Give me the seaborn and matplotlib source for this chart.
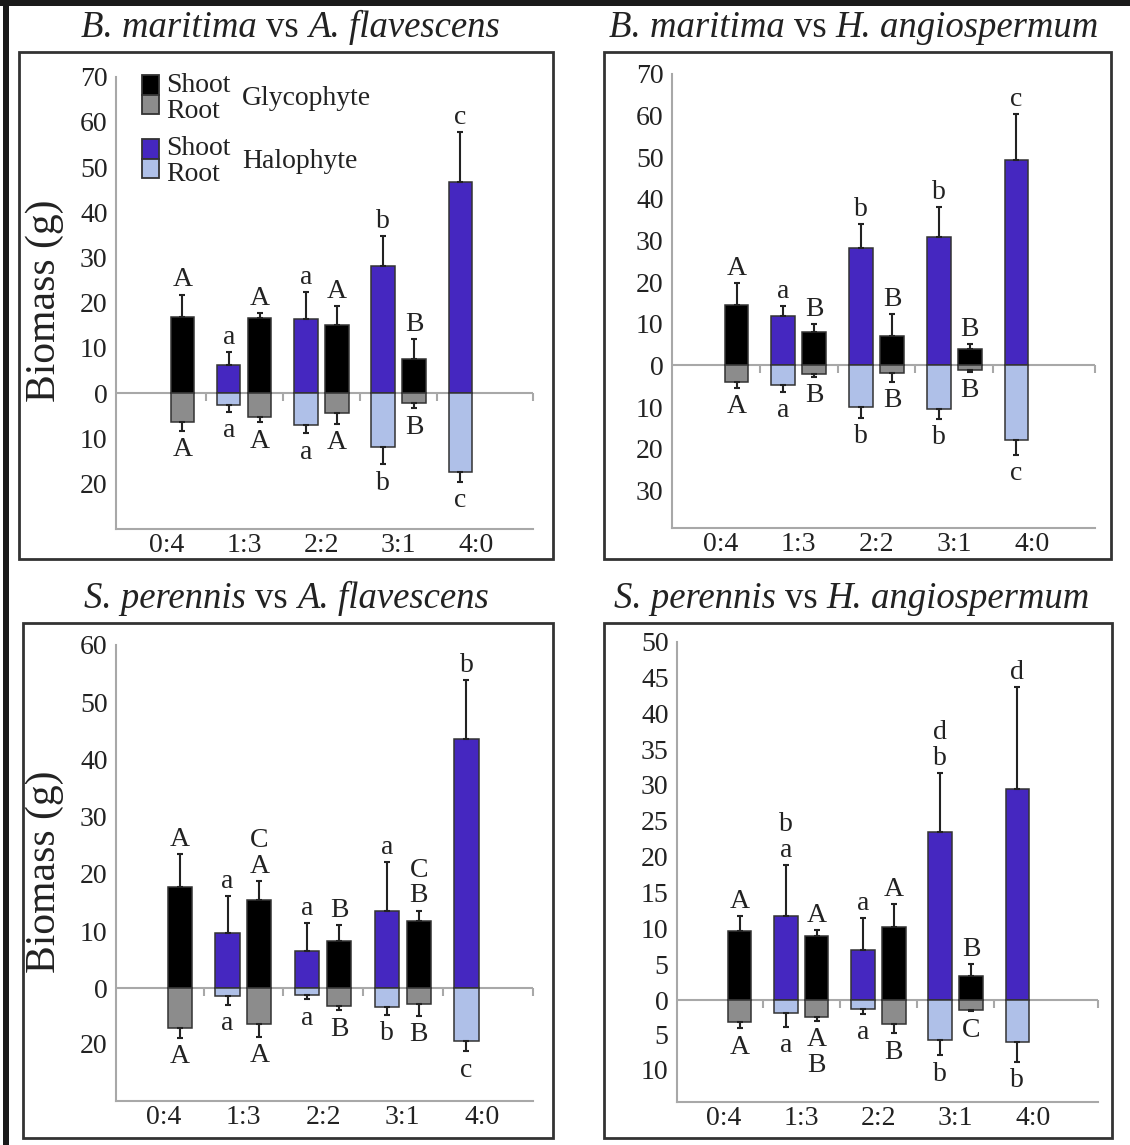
import numpy as np
import pandas as pd
import matplotlib
matplotlib.use("Agg")
import matplotlib.pyplot as plt
from matplotlib.patches import Rectangle
from matplotlib.ticker import FixedLocator, FuncFormatter, NullFormatter
import seaborn as sns

# ---------------------------------------------------------------- data
ratios = ["0:4", "1:3", "2:2", "3:1", "4:0"]
plants = ["Halophyte", "Glycophyte"]
nan = np.nan

# B. maritima (halophyte) vs A. flavescens (glycophyte)
bmaf_hal_shoot = [nan, 6.3, 16.4, 28.1, 46.8]
bmaf_hal_shoot_se = [nan, 2.8, 5.9, 6.7, 11.0]
bmaf_hal_root = [nan, 2.6, 7.0, 12.0, 17.4]
bmaf_hal_root_se = [nan, 1.5, 1.9, 3.8, 2.2]
bmaf_gly_shoot = [16.8, 16.7, 15.1, 7.5, nan]
bmaf_gly_shoot_se = [5.0, 1.1, 4.1, 4.5, nan]
bmaf_gly_root = [6.5, 5.2, 4.5, 2.1, nan]
bmaf_gly_root_se = [1.9, 1.3, 2.4, 1.3, nan]
bmaf_hal_shoot_sig = ["", "a", "a", "b", "c"]
bmaf_hal_root_sig = ["", "a", "a", "b", "c"]
bmaf_gly_shoot_sig = ["A", "A", "A", "B", ""]
bmaf_gly_root_sig = ["A", "A", "A", "B", ""]

# B. maritima (halophyte) vs H. angiospermum (glycophyte)
bmha_hal_shoot = [nan, 11.8, 28.1, 30.8, 49.4]
bmha_hal_shoot_se = [nan, 2.4, 5.8, 7.2, 10.9]
bmha_hal_root = [nan, 4.7, 9.9, 10.5, 17.8]
bmha_hal_root_se = [nan, 1.7, 2.7, 2.3, 3.6]
bmha_gly_shoot = [14.6, 8.1, 7.0, 3.9, nan]
bmha_gly_shoot_se = [5.1, 1.8, 5.3, 1.2, nan]
bmha_gly_root = [4.0, 2.1, 1.9, 1.0, nan]
bmha_gly_root_se = [1.3, 0.6, 2.0, 0.5, nan]
bmha_hal_shoot_sig = ["", "a", "b", "b", "c"]
bmha_hal_root_sig = ["", "a", "b", "b", "c"]
bmha_gly_shoot_sig = ["A", "B", "B", "B", ""]
bmha_gly_root_sig = ["A", "B", "B", "B", ""]

# S. perennis (halophyte) vs A. flavescens (glycophyte)
spaf_hal_shoot = [nan, 9.6, 6.5, 13.5, 43.5]
spaf_hal_shoot_se = [nan, 6.6, 4.9, 8.5, 10.3]
spaf_hal_root = [nan, 2.9, 2.4, 6.9, 19.3]
spaf_hal_root_se = [nan, 3.1, 1.6, 2.7, 3.6]
spaf_gly_shoot = [17.7, 15.5, 8.3, 11.7, nan]
spaf_gly_shoot_se = [5.7, 3.3, 2.7, 1.9, nan]
spaf_gly_root = [14.4, 13.1, 6.4, 5.7, nan]
spaf_gly_root_se = [3.6, 4.5, 1.6, 4.3, nan]
spaf_hal_shoot_sig = ["", "a", "a", "a", "b"]
spaf_hal_root_sig = ["", "a", "a", "b", "c"]
spaf_gly_shoot_sig = ["A", "C\nA", "B", "C\nB", ""]
spaf_gly_root_sig = ["A", "A", "B", "B", ""]

# S. perennis (halophyte) vs H. angiospermum (glycophyte)
spha_hal_shoot = [nan, 11.8, 7.0, 23.5, 29.5]
spha_hal_shoot_se = [nan, 7.0, 4.4, 8.2, 14.2]
spha_hal_root = [nan, 1.8, 1.2, 5.7, 6.0]
spha_hal_root_se = [nan, 2.1, 0.8, 2.3, 2.9]
spha_gly_shoot = [9.7, 8.9, 10.2, 3.4, nan]
spha_gly_shoot_se = [2.0, 0.9, 3.2, 1.7, nan]
spha_gly_root = [3.2, 2.4, 3.5, 1.4, nan]
spha_gly_root_se = [0.9, 0.6, 1.3, 0.2, nan]
spha_hal_shoot_sig = ["", "b\na", "a", "d\nb", "d"]
spha_hal_root_sig = ["", "a", "a", "b", "b"]
spha_gly_shoot_sig = ["A", "A", "A", "B", ""]
spha_gly_root_sig = ["A", "A\nB", "B", "C", ""]

# --------------------------------------------------------------- style
sns.set_style("white")
plt.rcParams["font.family"] = ["Liberation Serif", "DejaVu Serif"]

SHOOT_PAL = {"Halophyte": "#4527c0", "Glycophyte": "#000000"}
ROOT_PAL = {"Halophyte": "#afc0e8", "Glycophyte": "#8c8c8c"}
EDGE = "#333333"
AXIS_GREY = "#a8a8a8"
TEXT = "#222222"
FS = 20
TITLE_FS = 26.5

W, H = 1130, 1145
fig = plt.figure(figsize=(W / 100, H / 100), dpi=100)
fig.patch.set_facecolor("white")
renderer = fig.canvas.get_renderer()


def fx(px):
    return px / W


def fy(py):
    return 1 - py / H


def build_frame(prefix):
    g = globals()
    rows = []
    for plant, key in (("Halophyte", "hal"), ("Glycophyte", "gly")):
        for part, sign in (("Shoot", 1), ("Root", -1)):
            vals = g[f"{prefix}_{key}_{part.lower()}"]
            ses = g[f"{prefix}_{key}_{part.lower()}_se"]
            sigs = g[f"{prefix}_{key}_{part.lower()}_sig"]
            for r, v, s, t in zip(ratios, vals, ses, sigs):
                rows.append(dict(ratio=r, plant=plant, part=part,
                                 value=sign * v, se=s, sig=t))
    return pd.DataFrame(rows).dropna(subset=["value"])


def draw_title(cx, baseline, pieces):
    """Write a line of mixed italic/upright words centred on cx (pixels)."""
    space = 0.25 * TITLE_FS * 100 / 72
    texts, widths = [], []
    for word, style in pieces:
        t = fig.text(0, fy(baseline), word, ha="left", va="baseline",
                     fontsize=TITLE_FS, style=style, color=TEXT)
        widths.append(t.get_window_extent(renderer).width)
        texts.append(t)
    total = sum(widths) + space * (len(pieces) - 1)
    x = cx - total / 2
    for t, w in zip(texts, widths):
        t.set_x(fx(x))
        x += w + space


panels = [
    dict(prefix="bmaf", title=["B. maritima", "vs", "A. flavescens"],
         axes_px=(116, 76.8, 533, 528.6), box_px=(19, 52, 553, 559),
         title_px=(290, 37), ylim=(-30, 70), neg=1.0, xlim=(-0.66, 4.74),
         yticks=[-20, -10, 0, 10, 20, 30, 40, 50, 60, 70], ylabel_y=301),
    dict(prefix="bmha", title=["B. maritima", "vs", "H. angiospermum"],
         axes_px=(672, 73.9, 1095, 527.9), box_px=(604, 52, 1111, 559),
         title_px=(854, 37), ylim=(-39, 70), neg=1.0, xlim=(-0.63, 4.81),
         yticks=[-30, -20, -10, 0, 10, 20, 30, 40, 50, 60, 70], ylabel_y=None),
    dict(prefix="spaf", title=["S. perennis", "vs", "A. flavescens"],
         axes_px=(116, 645, 532.6, 1101), box_px=(22.5, 623, 553, 1137.5),
         title_px=(286, 608), ylim=(-41, 60), neg=0.48, xlim=(-0.60, 4.63),
         yticks=[-20, 0, 10, 20, 30, 40, 50, 60], ylabel_y=872),
    dict(prefix="spha", title=["S. perennis", "vs", "H. angiospermum"],
         axes_px=(677, 641.5, 1097.6, 1101.5), box_px=(604, 623, 1112, 1137.5),
         title_px=(852, 608), ylim=(-14.7, 50), neg=0.96, xlim=(-0.61, 4.84),
         yticks=[-10, -5, 0, 5, 10, 15, 20, 25, 30, 35, 40, 45, 50], ylabel_y=None),
]

for p in panels:
    l, t, r, b = p["axes_px"]
    ax = fig.add_axes([fx(l), fy(b), (r - l) / W, (b - t) / H])
    df = build_frame(p["prefix"])

    common = dict(x="ratio", y="value", hue="plant", order=ratios,
                  hue_order=plants, saturation=1, width=0.8, gap=0.24,
                  errorbar=None, edgecolor=EDGE, linewidth=1.1,
                  legend=False, ax=ax, zorder=2)
    sns.barplot(data=df[df.part == "Shoot"], palette=SHOOT_PAL, **common)
    sns.barplot(data=df[df.part == "Root"], palette=ROOT_PAL, **common)

    # root side of the axis may use its own compression
    k = p["neg"]
    ax.set_yscale("function", functions=(
        lambda y, k=k: np.where(y < 0, y * k, y),
        lambda y, k=k: np.where(y < 0, y / k, y)))
    ax.set_ylim(*p["ylim"])
    ax.set_xlim(*p["xlim"])

    # error bars and significance letters, placed on each drawn bar
    for patch in list(ax.patches):
        h = patch.get_height()
        if not np.isfinite(h) or h == 0:
            continue
        xc = patch.get_x() + patch.get_width() / 2
        cat = int(round(xc))
        plant = "Halophyte" if xc < cat else "Glycophyte"
        part = "Shoot" if h > 0 else "Root"
        row = df[(df.ratio == ratios[cat]) & (df.plant == plant) & (df.part == part)].iloc[0]
        v, se, sig = row.value, row.se, row.sig
        if part == "Shoot":
            yerr = [[0], [se]]
            tip = v + se
            off, va = 1.5, "bottom"
        else:
            yerr = [[se], [0]]
            tip = v - se
            off, va = -4.5, "top"
        ax.errorbar([xc], [v], yerr=yerr, fmt="none", ecolor="#222222",
                    elinewidth=1.5, capsize=2.5, capthick=1.5, zorder=3)
        if sig:
            ax.annotate(sig, xy=(xc, tip), xytext=(0, off),
                        textcoords="offset points", ha="center", va=va,
                        fontsize=FS, color=TEXT, linespacing=1.05)

    # zero line with category separators
    ax.axhline(0, color=AXIS_GREY, lw=1.5, zorder=1)
    seps = [0.5, 1.5, 2.5, 3.5, p["xlim"][1]]
    ax.plot(seps, [0] * len(seps), ls="none", marker=3, ms=6,
            mew=1.5, color=AXIS_GREY, zorder=1, clip_on=False)

    # axes styling
    for side in ("top", "right"):
        ax.spines[side].set_visible(False)
    for side in ("left", "bottom"):
        ax.spines[side].set_color(AXIS_GREY)
        ax.spines[side].set_linewidth(1.5)
    ax.set_facecolor("none")
    ax.set_xlabel("")
    ax.set_ylabel("")

    ax.yaxis.set_major_locator(FixedLocator(p["yticks"]))
    ax.yaxis.set_minor_locator(FixedLocator([]))
    ax.yaxis.set_major_formatter(FuncFormatter(lambda v, pos: f"{abs(v):g}"))
    ax.tick_params(axis="y", which="major", direction="out", length=4.5,
                   width=1.3, color=AXIS_GREY, labelsize=FS,
                   labelcolor=TEXT, pad=1.5)

    ax.xaxis.set_major_locator(FixedLocator(seps))
    ax.xaxis.set_major_formatter(NullFormatter())
    ax.xaxis.set_minor_locator(FixedLocator(range(len(ratios))))
    ax.xaxis.set_minor_formatter(FuncFormatter(lambda v, pos: ratios[int(round(v))]))
    ax.tick_params(axis="x", which="major", direction="out", length=5,
                   width=1.5, color=AXIS_GREY)
    ax.tick_params(axis="x", which="minor", length=0, labelsize=FS,
                   labelcolor=TEXT, pad=3)

    # panel frame and title
    bl, bt, br, bb = p["box_px"]
    fig.add_artist(Rectangle((fx(bl), fy(bb)), (br - bl) / W, (bb - bt) / H,
                             transform=fig.transFigure, fill=False,
                             edgecolor="#333333", lw=2))
    tx, ty = p["title_px"]
    sp1, vs, sp2 = p["title"]
    draw_title(tx, ty, [(sp1, "italic"), (vs, "normal"), (sp2, "italic")])
    if p["ylabel_y"] is not None:
        fig.text(fx(45), fy(p["ylabel_y"]), "Biomass (g)", rotation=90,
                 ha="center", va="center", fontsize=30, color=TEXT)

# legend drawn inside the first panel
leg_rows = [
    ("Glycophyte", SHOOT_PAL["Glycophyte"], ROOT_PAL["Glycophyte"], 75, 98.6),
    ("Halophyte", SHOOT_PAL["Halophyte"], ROOT_PAL["Halophyte"], 139, 161.4),
]
for name, c_shoot, c_root, top, mid in leg_rows:
    for j, col in enumerate((c_shoot, c_root)):
        y0 = top + j * 19.6
        fig.add_artist(Rectangle((fx(141.7), fy(y0 + 19.6)), 17.6 / W, 19.6 / H,
                                 transform=fig.transFigure, facecolor=col,
                                 edgecolor=EDGE, lw=1.3))
    fig.text(fx(166), fy(mid), "Shoot\nRoot", ha="left", va="center",
             fontsize=FS, color=TEXT, linespacing=1.05)
    fig.text(fx(242), fy(mid), name, ha="left", va="center",
             fontsize=FS, color=TEXT)

# outer frame strips
fig.add_artist(Rectangle((0, fy(6)), 1, 6 / H, transform=fig.transFigure,
                         facecolor="#1a1a1a", edgecolor="none"))
fig.add_artist(Rectangle((fx(3), 0), 6 / W, 1, transform=fig.transFigure,
                         facecolor="#1a1a1a", edgecolor="none"))

fig.savefig("out.png", dpi=100, facecolor="white")
